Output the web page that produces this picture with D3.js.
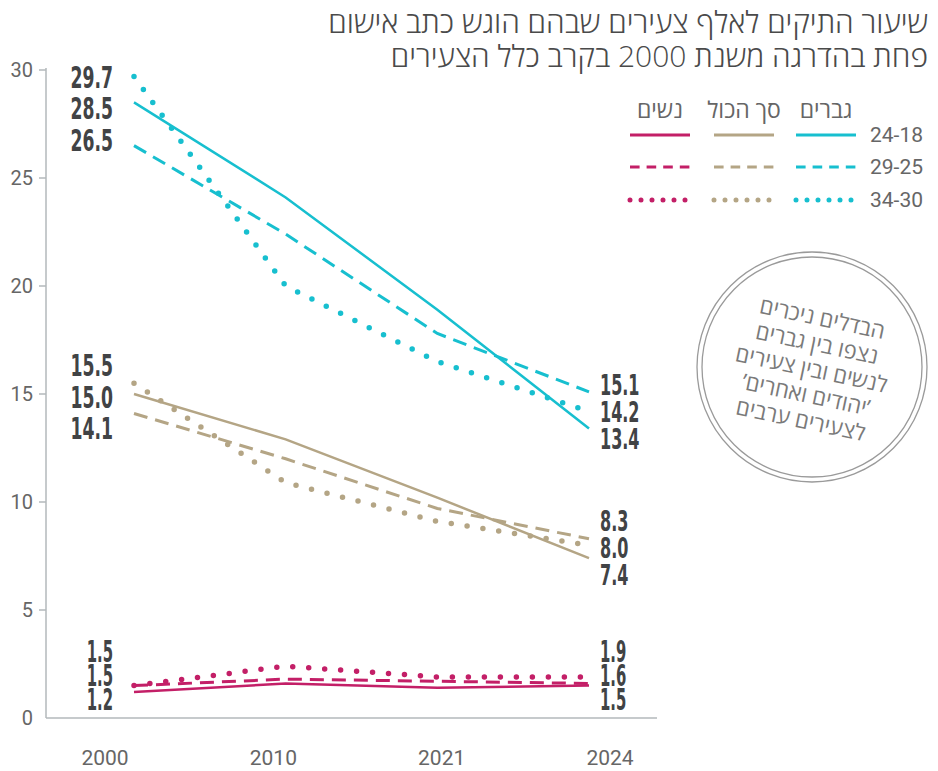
<!DOCTYPE html>
<html>
<head>
    <meta charset="utf-8">
    <title>Arrest rate per 1000 young adults</title>
    <script src="https://d3js.org/d3.v7.min.js"></script>
    <style>
        body { margin: 0; background: #fff; }
        .heb { font-family: "Open Sans", "Liberation Sans", "DejaVu Sans", sans-serif; }
        .num { font-family: "Liberation Sans Narrow", "DejaVu Sans Condensed", sans-serif; font-weight: bold; fill: #414345; }
        .tick { font-family: Roboto, "Open Sans", sans-serif; fill: #666; }
    </style>
</head>
<body>
<div id="chart"></div>
<script>
// data
const years = ["2000", "2010", "2021", "2024"];
const yTicks = [0, 5, 10, 15, 20, 25, 30];
const groupNames = ["גברים", "סך הכול", "נשים"];
const ageNames = ["24-18", "29-25", "34-30"];

const men1824 = [28.5, 24.1, 18.9, 13.4];
const men2529 = [26.5, 22.4, 17.8, 15.1];
const men3034 = [29.7, 20.0, 16.5, 14.2];
const all1824 = [15.0, 12.9, 10.2, 7.4];
const all2529 = [14.1, 12.0, 9.7, 8.3];
const all3034 = [15.5, 10.9, 9.1, 8.0];
const women1824 = [1.2, 1.6, 1.4, 1.5];
const women2529 = [1.5, 1.8, 1.7, 1.6];
const women3034 = [1.5, 2.4, 1.9, 1.9];

const titleLines = ["שיעור התיקים לאלף צעירים שבהם הוגש כתב אישום", "פחת בהדרגה משנת 2000 בקרב כלל הצעירים"];
const noteLines = ["הבדלים ניכרים", "נצפו בין גברים", "לנשים ובין צעירים", "’יהודים ואחרים’", "לצעירים ערבים"];

const colors = { men: "#17bfcf", all: "#b4a585", women: "#c31f67" };
const series = [
    { group: "men", age: 0, values: men1824 },
    { group: "men", age: 1, values: men2529 },
    { group: "men", age: 2, values: men3034 },
    { group: "all", age: 0, values: all1824 },
    { group: "all", age: 1, values: all2529 },
    { group: "all", age: 2, values: all3034 },
    { group: "women", age: 0, values: women1824 },
    { group: "women", age: 1, values: women2529 },
    { group: "women", age: 2, values: women3034 }
];

const W = 938, H = 771;
const svg = d3.select("#chart").append("svg").attr("width", W).attr("height", H);

const y = d3.scaleLinear().domain([0, 30]).range([718, 70]);
const xLab = d3.scalePoint().domain(years).range([105, 610]);
const x = d3.scalePoint().domain(years).range([134, 589]);

// axes
const axisCol = "#b3b8bb";
svg.append("line").attr("x1", 46).attr("x2", 46).attr("y1", y(30) - 2).attr("y2", y(0))
    .attr("stroke", axisCol).attr("stroke-width", 1.5);
svg.append("line").attr("x1", 46).attr("x2", 657).attr("y1", y(0)).attr("y2", y(0))
    .attr("stroke", axisCol).attr("stroke-width", 1.5);

const yt = svg.append("g").selectAll("g").data(yTicks).join("g");
yt.filter(d => d > 0).append("line").attr("x1", 39).attr("x2", 46)
    .attr("y1", d => y(d)).attr("y2", d => y(d)).attr("stroke", axisCol).attr("stroke-width", 1.5);
yt.append("text").attr("class", "tick").attr("x", 33).attr("y", d => y(d) + 7)
    .attr("text-anchor", "end").attr("font-size", 20).text(d => d);

svg.append("g").selectAll("text").data(years).join("text")
    .attr("class", "tick").attr("x", d => xLab(d)).attr("y", 765)
    .attr("text-anchor", "middle").attr("font-size", 21).text(d => d);

// lines
const dash = ["none", "14 8", "0 16"];
const line = d3.line().x((d, i) => x(years[i])).y(d => y(d));
svg.append("g").selectAll("path").data(series).join("path")
    .attr("d", d => line(d.values))
    .attr("fill", "none")
    .attr("stroke", d => colors[d.group])
    .attr("stroke-width", d => d.age === 0 ? 2.5 : d.age === 1 ? 3 : 5.5)
    .attr("stroke-linecap", d => d.age === 2 ? "round" : "butt")
    .attr("stroke-dasharray", d => dash[d.age]);

// end labels, stacked around the mean of the points
function endLabels(group, idx, side) {
    const vals = series.filter(s => s.group === group).map(s => s.values[idx]).sort((a, b) => b - a);
    const left = side === "left";
    const women = group === "women";
    const gap = women ? 24 : (left ? 31.5 : 27);
    const size = women ? 25 : (left ? 29 : 27);
    const sy = women ? 1.2 : 1.05;
    let mid = d3.mean(vals, v => y(v));
    let base = vals.map((v, i) => mid + (i - 1) * gap + 11);
    const shift = Math.max(0, base[2] - 710);
    base = base.map(b => b - shift);
    svg.append("g").selectAll("text").data(vals).join("text")
        .attr("class", "num")
        .attr("font-size", size)
        .attr("text-anchor", left ? "end" : "start")
        .attr("transform", (v, i) => `translate(${left ? 113 : 600},${base[i]}) scale(0.66,${sy})`)
        .text(v => v.toFixed(1));
}
["men", "all", "women"].forEach(g => {
    endLabels(g, 0, "left");
    endLabels(g, years.length - 1, "right");
});

// title
svg.append("g").selectAll("text").data(titleLines).join("text")
    .attr("class", "heb").attr("direction", "rtl").attr("text-anchor", "start")
    .attr("x", 928).attr("y", (d, i) => 33 + i * 34)
    .attr("font-size", 30).attr("font-weight", 300).attr("fill", "#4a4a4a")
    .text(d => d);

// legend
const colX = [826, 744, 660];
const rowY = [135, 167, 200];
const legend = svg.append("g");
legend.selectAll("text.head").data(groupNames).join("text")
    .attr("class", "heb head").attr("direction", "rtl").attr("text-anchor", "middle")
    .attr("x", (d, i) => colX[i]).attr("y", 118)
    .attr("font-size", 23).attr("fill", "#666").text(d => d);
legend.selectAll("text.age").data(ageNames).join("text")
    .attr("class", "tick age").attr("x", 870).attr("y", (d, i) => rowY[i] + 7)
    .attr("font-size", 21).text(d => d);
["men", "all", "women"].forEach((g, gi) => {
    legend.selectAll(null).data([0, 1, 2]).join("line")
        .attr("x1", colX[gi] - 30).attr("x2", colX[gi] + 30)
        .attr("y1", a => rowY[a]).attr("y2", a => rowY[a])
        .attr("stroke", colors[g])
        .attr("stroke-width", a => a === 2 ? 5 : 3)
        .attr("stroke-linecap", a => a === 2 ? "round" : "butt")
        .attr("stroke-dasharray", a => a === 0 ? "none" : a === 1 ? "9.6 7" : "0 11");
});

// note circle
const note = svg.append("g").attr("transform", "translate(812,367)");
note.selectAll("circle").data([115, 110]).join("circle")
    .attr("r", d => d).attr("fill", "none").attr("stroke", "#9a9a9a").attr("stroke-width", 1.3);
note.append("g").attr("transform", "rotate(12)")
    .selectAll("text").data(noteLines).join("text")
    .attr("class", "heb").attr("direction", "rtl").attr("text-anchor", "middle")
    .attr("x", 0).attr("y", (d, i) => (i - 2) * 26 + 10)
    .attr("font-size", 22).attr("fill", "#7a7a7a").text(d => d);
</script>
</body>
</html>
